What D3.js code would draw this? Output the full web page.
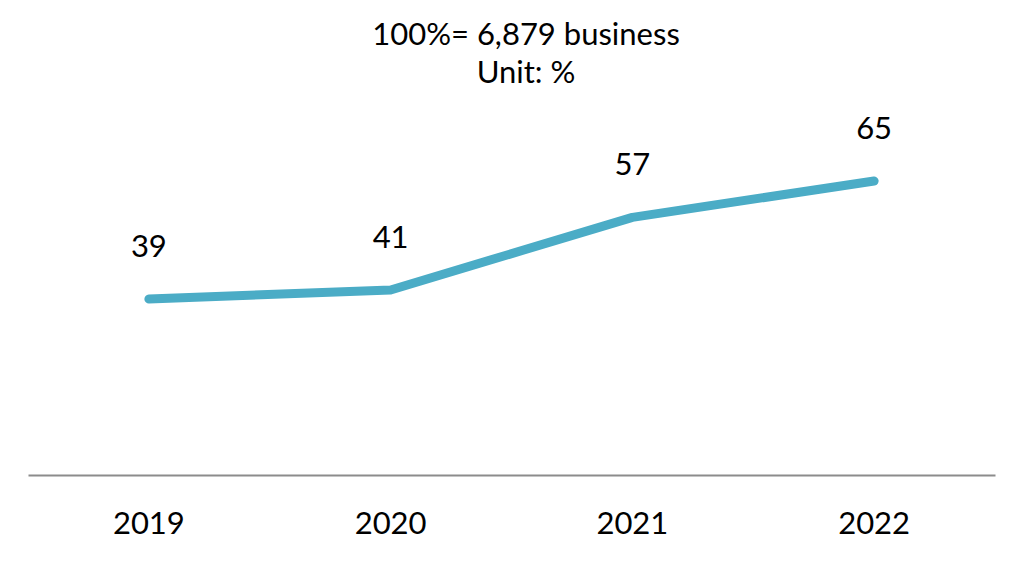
<!DOCTYPE html>
<html><head><meta charset="utf-8">
<script src="https://cdn.jsdelivr.net/npm/d3@7"></script>
<style>
html,body{margin:0;padding:0;background:#fff;}
text{font-family:Lato,"Open Sans",sans-serif;fill:#000;}
</style></head>
<body>
<svg id="chart" width="1023" height="577"></svg>
<script>
const years = ["2019","2020","2021","2022"];
const values = [39, 41, 57, 65];
const titleLines = ["100%= 6,879 business", "Unit: %"];

const svg = d3.select("#chart");
const x = d3.scaleBand().domain(years).range([28, 995]);
const y = d3.scaleLinear().domain([0, 100]).range([476, 22.2]);
const cx = d => x(d) + x.bandwidth() / 2;

// baseline axis
const axis = d3.axisBottom(x).tickSize(0).tickPadding(0).tickFormat("");
const ag = svg.append("g").attr("transform", "translate(0,475)").call(axis);
ag.select(".domain").attr("stroke", "#8c8c8c").attr("stroke-width", 2);

// year labels
svg.selectAll("text.year").data(years).enter().append("text")
  .attr("class", "year")
  .attr("x", d => cx(d)).attr("y", 534)
  .attr("text-anchor", "middle").attr("font-size", 31)
  .text(d => d);

// line
const data = years.map((yr, i) => ({yr, v: values[i]}));
svg.append("path").datum(data)
  .attr("fill", "none").attr("stroke", "#4BACC6").attr("stroke-width", 9)
  .attr("stroke-linecap", "round").attr("stroke-linejoin", "round")
  .attr("d", d3.line().x(d => cx(d.yr)).y(d => y(d.v)));

// value labels
svg.selectAll("text.val").data(data).enter().append("text")
  .attr("class", "val")
  .attr("x", d => cx(d.yr)).attr("y", d => y(d.v) - 42)
  .attr("text-anchor", "middle").attr("font-size", 31)
  .text(d => d.v);

// title
svg.selectAll("text.title").data(titleLines).enter().append("text")
  .attr("class", "title")
  .attr("x", 526).attr("y", (d, i) => 45 + i * 37.5)
  .attr("text-anchor", "middle").attr("font-size", 31)
  .text(d => d);
</script>
</body></html>
